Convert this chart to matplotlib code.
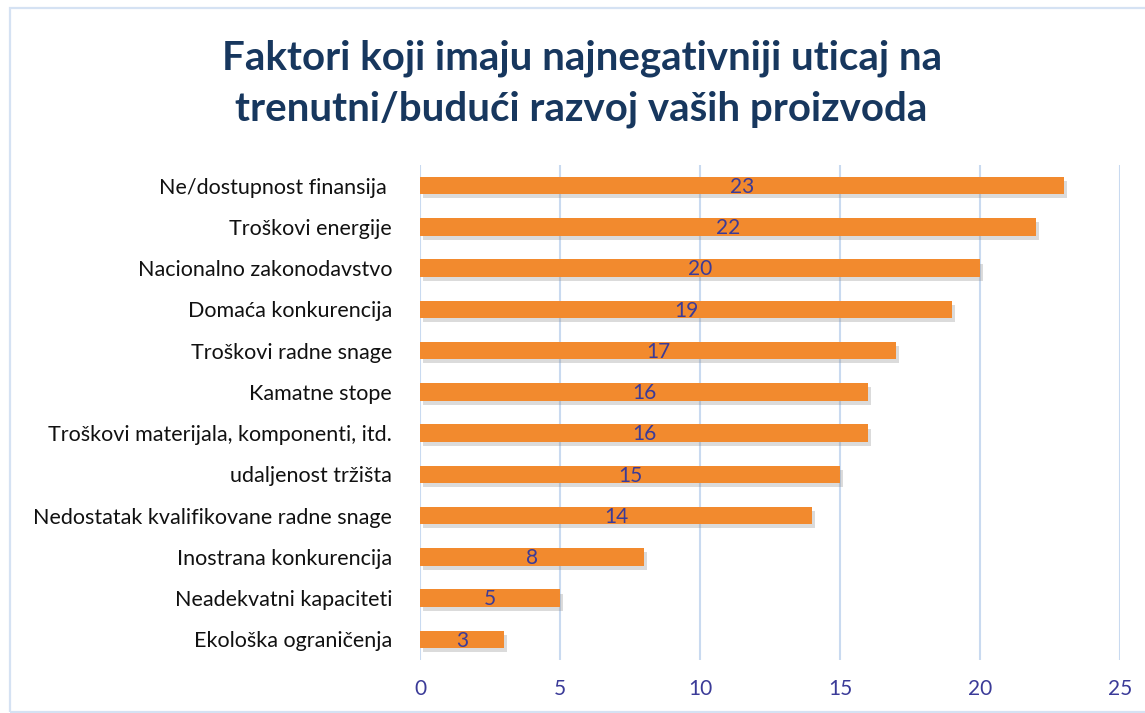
import matplotlib.pyplot as plt
import matplotlib.patheffects as pe
from matplotlib.patches import Rectangle

plt.rcParams['font.family'] = ['Lato', 'DejaVu Sans']

# chart data, top to bottom as shown
categories = [
    "Ne/dostupnost finansija ",
    "Troškovi energije",
    "Nacionalno zakonodavstvo",
    "Domaća konkurencija",
    "Troškovi radne snage",
    "Kamatne stope",
    "Troškovi materijala, komponenti, itd.",
    "udaljenost tržišta",
    "Nedostatak kvalifikovane radne snage",
    "Inostrana konkurencija",
    "Neadekvatni kapaciteti",
    "Ekološka ograničenja",
]
values = [23, 22, 20, 19, 17, 16, 16, 15, 14, 8, 5, 3]
xticks = [0, 5, 10, 15, 20, 25]

title = "Faktori koji imaju najnegativniji uticaj na\ntrenutni/budući razvoj vaših proizvoda"

fig = plt.figure(figsize=(11.45, 7.13), dpi=100)

# light blue frame round the chart area
fig.patches.append(Rectangle((10 / 1145, 1 / 713), 1.2, 704 / 713,
                             transform=fig.transFigure, fill=False,
                             edgecolor="#D5E2F3", linewidth=1.6))

ax = fig.add_axes([420 / 1145, 53 / 713, 700 / 1145, 495 / 713])

ypos = list(range(len(categories)))
bars = ax.barh(ypos, values, height=0.42, color="#F28A2E", zorder=3)
for b in bars:
    b.set_path_effects([pe.SimplePatchShadow(offset=(2, -3), shadow_rgbFace="#888888", alpha=0.3),
                        pe.Normal()])

for y, v in zip(ypos, values):
    ax.text(v / 2, y + 0.03, str(v), ha="center", va="center", fontsize=15,
            color="#3B3B98", zorder=4)

ax.set_xlim(0, 25)
ax.set_ylim(len(categories) - 0.5, -0.5)
ax.set_xticks(xticks)
ax.set_xticklabels([str(t) for t in xticks], fontsize=15, color="#3B3B98")
ax.set_yticks(ypos)
ax.set_yticklabels(categories, fontsize=15.5, color="#111111")
ax.tick_params(axis="both", length=0)
ax.tick_params(axis="y", pad=20)
ax.tick_params(axis="x", pad=14)
ax.xaxis.grid(True, color="#C9DAF0", linewidth=1.5, zorder=0)
ax.set_axisbelow(True)
for s in ax.spines.values():
    s.set_visible(False)

fig.text(0.508, 0.882, title, ha="center", va="center", fontsize=29,
         fontweight="bold", color="#17375E", linespacing=1.45)

fig.savefig("out.png", dpi=100)
